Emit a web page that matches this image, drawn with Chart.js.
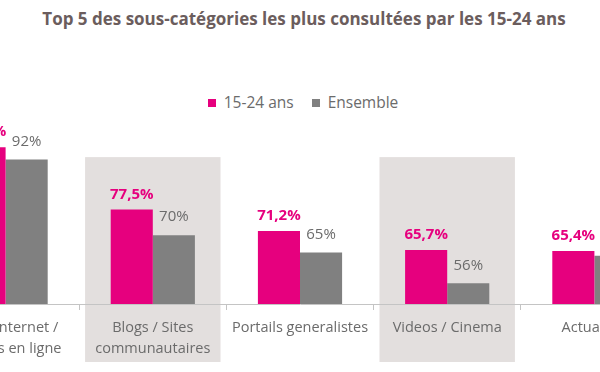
<!DOCTYPE html>
<html>
<head>
<meta charset="utf-8">
<script src="https://cdn.jsdelivr.net/npm/chart.js@4"></script>
<style>
    html, body { margin: 0; padding: 0; background: #fff; }
    body { width: 600px; height: 372px; position: relative; overflow: hidden; font-family: 'Open Sans', sans-serif; }
    #title { position: absolute; top: 7px; left: 0; width: 608px; text-align: center; font-weight: bold; font-size: 17px; color: #6b5d5d; white-space: nowrap; }
    #legend { position: absolute; top: 91px; left: 0; width: 606px; text-align: center; font-size: 15.5px; color: #6b6b6b; white-space: nowrap; }
    #legend span.box { display: inline-block; width: 8px; height: 8px; margin-right: 8px; vertical-align: 1px; }
    #legend span.item { margin: 0 9px; }
    #wrap { position: absolute; left: -68px; top: 0; width: 736px; height: 372px; }
</style>
</head>
<body>
<div id="title">Top 5 des sous-catégories les plus consultées par les 15-24 ans</div>
<div id="legend"></div>
<div id="wrap"><canvas id="chart"></canvas></div>
<script>
const categories = [
    ['Accès Internet /', 'Services en ligne'],
    ['Blogs / Sites', 'communautaires'],
    'Portails generalistes',
    'Videos / Cinema',
    'Actualités'
];
const jeunes = [95.6, 77.5, 71.2, 65.7, 65.4];
const ensemble = [92, 70, 65, 56, 64];
const jeunesLabels = ['95,6%', '77,5%', '71,2%', '65,7%', '65,4%'];
const ensembleLabels = ['92%', '70%', '65%', '56%', '64%'];
const shaded = [1, 3];

const pink = '#e6007e';
const grey = '#808080';

document.getElementById('legend').innerHTML =
    '<span class="item"><span class="box" style="background:' + pink + '"></span>15-24 ans</span>' +
    '<span class="item"><span class="box" style="background:' + grey + '"></span>Ensemble</span>';

const bands = {
    id: 'bands',
    beforeDraw(chart) {
        const x = chart.scales.x, y = chart.scales.y;
        const ctx = chart.ctx;
        const w = (x.getPixelForValue(1) - x.getPixelForValue(0)) * 0.92;
        ctx.save();
        ctx.fillStyle = '#e3dfde';
        shaded.forEach(i => {
            const cx = x.getPixelForValue(i);
            const top = y.getPixelForValue(92.7);
            ctx.fillRect(cx - w / 2, top, w, chart.height - 10 - top);
        });
        ctx.restore();
    }
};

const valueLabels = {
    id: 'valueLabels',
    afterDatasetsDraw(chart) {
        const ctx = chart.ctx;
        ctx.save();
        ctx.textAlign = 'center';
        ctx.textBaseline = 'middle';
        chart.data.datasets.forEach((ds, di) => {
            const meta = chart.getDatasetMeta(di);
            const texts = di === 0 ? jeunesLabels : ensembleLabels;
            ctx.fillStyle = di === 0 ? pink : '#6b6b6b';
            ctx.font = (di === 0 ? 'bold ' : '') + "15px 'Open Sans', sans-serif";
            meta.data.forEach((bar, i) => {
                ctx.fillText(texts[i], bar.x, bar.y - (di === 0 ? 15 : 18));
            });
        });
        ctx.restore();
    }
};

new Chart(document.getElementById('chart'), {
    type: 'bar',
    data: {
        labels: categories,
        datasets: [
            { label: '15-24 ans', data: jeunes, backgroundColor: pink },
            { label: 'Ensemble', data: ensemble, backgroundColor: grey }
        ]
    },
    options: {
        responsive: true,
        maintainAspectRatio: false,
        animation: false,
        layout: { padding: { top: 132, left: 0, right: 0, bottom: 0 } },
        datasets: {
            bar: { categoryPercentage: 0.572, barPercentage: 1 }
        },
        scales: {
            y: { display: false, min: 50, max: 100 },
            x: {
                afterFit: s => { s.height = 68; },
                border: { color: '#c4c4c4' },
                grid: {
                    display: true,
                    offset: true,
                    drawOnChartArea: false,
                    drawTicks: true,
                    tickLength: 6,
                    color: '#c4c4c4'
                },
                ticks: {
                    color: '#6b6b6b',
                    padding: 8,
                    autoSkip: false,
                    maxRotation: 0,
                    font: { family: "'Open Sans', sans-serif", size: 14.5, lineHeight: 1.4 }
                }
            }
        },
        plugins: {
            legend: { display: false },
            title: { display: false },
            tooltip: { enabled: false }
        }
    },
    plugins: [bands, valueLabels]
});
</script>
</body>
</html>
